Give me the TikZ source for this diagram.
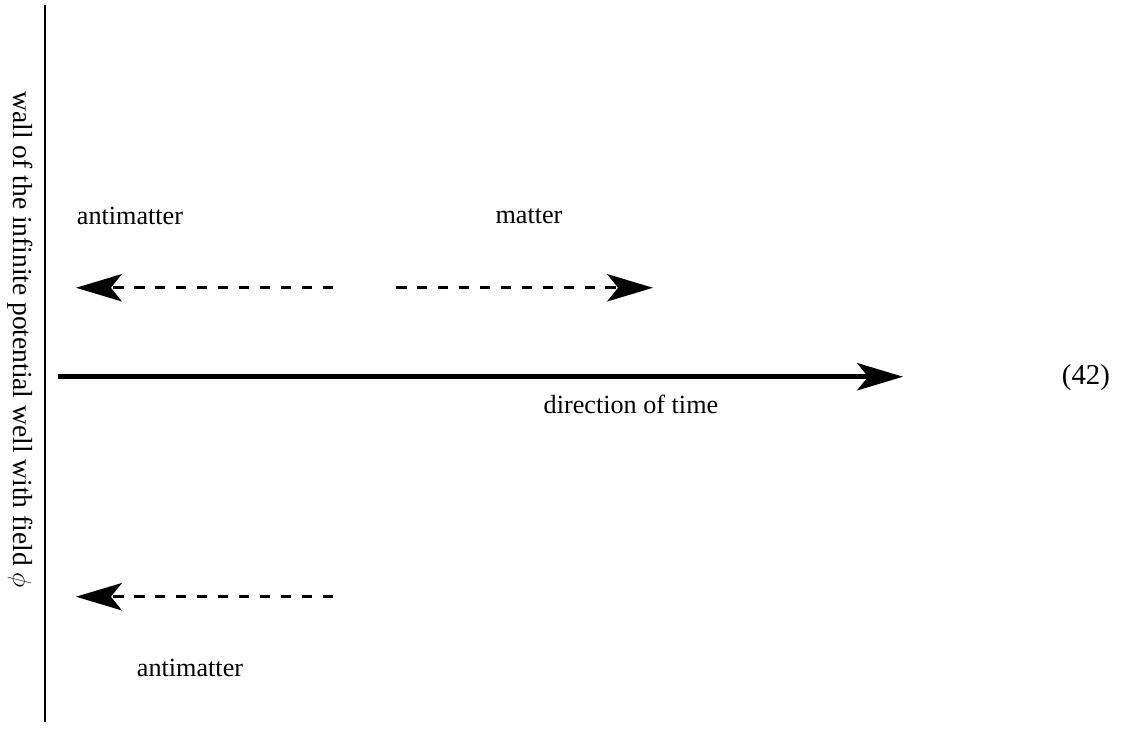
\documentclass[tikz,border=0pt]{standalone}
\usepackage{fontspec}
\setmainfont{Liberation Serif}
\usepackage{tikz}
\usetikzlibrary{arrows.meta}

\begin{document}
\begin{tikzpicture}[
  wall/.style={line width=1.3pt},
  timearrow/.style={line width=2.2pt,-{Stealth[length=21pt,width=12.5pt,inset=5pt]}},
  moving/.style={line width=1.5pt,dash pattern=on 4.8pt off 4.8pt,-{Stealth[length=21pt,width=12.5pt,inset=5pt]}},
  txt/.style={font=\fontsize{12}{14}\selectfont,inner sep=0pt}
]
\useasboundingbox (0,0) rectangle (18.14,11.74);

\coordinate (walltop) at (0.725,11.66);
\coordinate (wallbot) at (0.725,0.113);
\node[txt,font=\fontsize{12.6}{15}\selectfont,rotate=-90] (walltext) at (0.322,6.267) {wall of the infinite potential well with field $\phi$};

\coordinate (tstart) at (0.934,5.671);
\coordinate (tend) at (14.547,5.671);
\node[txt] (time) at (10.165,5.22) {direction of time};
\node[txt,font=\fontsize{13.2}{15}\selectfont] (eqno) at (17.495,5.655) {(42)};

\node[txt] (anti) at (2.094,8.264) {antimatter};
\node[txt] (matter) at (8.522,8.264) {matter};
\coordinate (a0) at (5.365,7.104);
\coordinate (a1) at (1.224,7.104);
\coordinate (m0) at (6.38,7.104);
\coordinate (m1) at (10.52,7.104);

\coordinate (b0) at (5.365,2.127);
\coordinate (b1) at (1.224,2.127);
\node[txt] (antib) at (3.061,0.983) {antimatter};

\draw[wall] (walltop) -- (wallbot);
\draw[timearrow] (tstart) -- (tend);
\draw[moving] (a0) -- (a1);
\draw[moving] (m0) -- (m1);
\draw[moving] (b0) -- (b1);
\end{tikzpicture}
\end{document}
